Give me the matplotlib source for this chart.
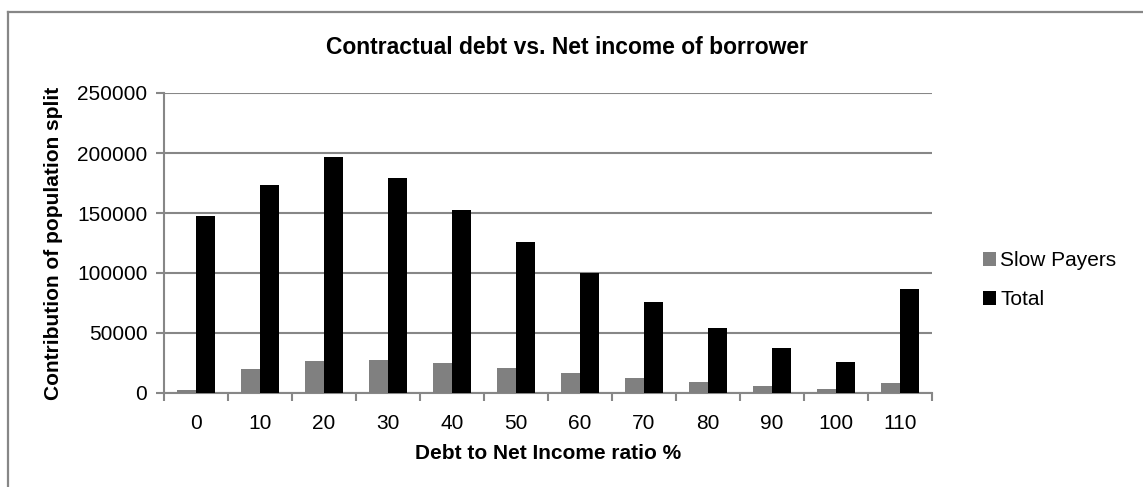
import matplotlib.pyplot as plt
import numpy as np
from matplotlib.lines import Line2D

plt.rcParams['font.family'] = ['Liberation Sans', 'DejaVu Sans']

categories = ['0', '10', '20', '30', '40', '50', '60', '70', '80', '90', '100', '110']
slow_payers = [2500, 20000, 27000, 27300, 25000, 21100, 16900, 12800, 8900, 5600, 3600, 8100]
total = [147200, 173000, 197000, 179200, 152200, 125800, 100000, 76100, 54400, 37800, 25800, 86900]

W, H = 1143, 487
fig = plt.figure(figsize=(W / 100, H / 100), dpi=100)

# outer chart border (only top and left visible)
fig.add_artist(Line2D([8 / W, 8 / W], [0, 1 - 12 / H], color='#878787', lw=1.6))
fig.add_artist(Line2D([8 / W, 1], [1 - 12 / H, 1 - 12 / H], color='#878787', lw=1.6))

# plot area in pixels: x 164..932, y 93..393
ax = fig.add_axes([164 / W, 1 - 393 / H, (932 - 164) / W, (393 - 93) / H])

x = np.arange(len(categories))
bw = 0.29
ax.bar(x - bw / 2, slow_payers, bw, color='#808080', label='Slow Payers', zorder=3)
ax.bar(x + bw / 2, total, bw, color='black', label='Total', zorder=3)

ax.set_xlim(-0.5, len(categories) - 0.5)
ax.set_ylim(0, 250000)
ax.set_yticks(range(0, 250001, 50000))
ax.set_yticklabels([str(v) for v in range(0, 250001, 50000)], fontsize=15)
ax.set_xticks(x)
ax.set_xticklabels(categories, fontsize=15)
ax.tick_params(axis='x', length=0, pad=15)
ax.set_xticks(np.arange(-0.5, len(categories)), minor=True)
ax.tick_params(axis='x', which='minor', length=6, width=1.5, color='#878787', direction='out')
ax.tick_params(axis='y', length=6, width=1.5, color='#878787', pad=6)

ax.grid(axis='y', color='#878787', lw=1.5, zorder=0)
for s in ['top', 'right']:
    ax.spines[s].set_visible(False)
for s in ['left', 'bottom']:
    ax.spines[s].set_color('#878787')
    ax.spines[s].set_linewidth(1.5)

ax.set_xlabel('Debt to Net Income ratio %', fontsize=15, fontweight='bold', labelpad=8)
ax.set_ylabel('Contribution of population split', fontsize=15, fontweight='bold', labelpad=10)

fig.text(567 / W, 1 - 47 / H, 'Contractual debt vs. Net income of borrower',
         ha='center', va='center', fontsize=16.5, fontweight='bold')

fig.legend(loc='center left', bbox_to_anchor=(964 / W, 1 - 280 / H), frameon=False,
           fontsize=15, handlelength=0.65, handleheight=0.65, handletextpad=0.2,
           labelspacing=0.95)

fig.savefig('out.png', dpi=100)
